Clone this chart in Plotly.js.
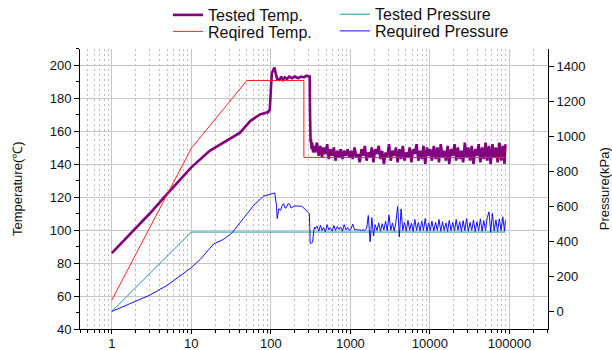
<!DOCTYPE html>
<html>
<head>
<meta charset="utf-8">
<script src="https://cdn.plot.ly/plotly-3.0.1.min.js"></script>
<style>html,body{margin:0;padding:0;background:#fff;}#chart{width:612px;height:350px;}</style>
</head>
<body>
<div id="chart"></div>
<script>
// ---- data ----
const rampTime = [1, 2, 3, 5, 7, 10, 17, 25, 41, 55, 73, 93, 97, 100, 103, 107, 111, 115, 120, 128, 135, 142, 150, 160, 170, 185, 200, 220, 240, 260, 280, 300, 308, 311, 313, 316, 320, 325, 330, 340, 350];
const testedTempRamp = [86, 101, 110, 122, 130, 138, 148, 153, 159, 166, 170, 171.5, 173, 185, 195, 197, 198.5, 195, 191.5, 191, 193, 191, 192.5, 191.5, 193, 192, 193, 192, 193, 192.5, 193.5, 193, 193, 170, 156, 153, 155, 149, 153, 147, 151];

const bandTime = [360, 380, 400, 420, 440, 460, 485, 510, 535, 560, 590, 620, 650, 685, 720, 755, 795, 835, 880, 925, 970,
  1020, 1070, 1130, 1190, 1250, 1310, 1380, 1450, 1520, 1600, 1680, 1770, 1860, 1950, 2050, 2160, 2270, 2390, 2510, 2640, 2770, 2910, 3060, 3220, 3380, 3560, 3740, 3930, 4130, 4340, 4560, 4800, 5040, 5300, 5570, 5860, 6160, 6470, 6800, 7150, 7520, 7900, 8300, 8730, 9180, 9650,
  10100, 10600, 11200, 11800, 12400, 13000, 13700, 14400, 15100, 15900, 16700, 17500, 18400, 19400, 20400, 21400, 22500, 23700, 24900, 26200, 27500, 28900, 30400, 32000, 33600, 35300, 37100, 39000, 41000, 43100, 45300, 47600, 50100, 52600, 55300, 58200, 61100, 64300, 67600, 71000, 74700, 78500, 82500, 86700, 89000];
const testedTempBand = [147, 153, 145, 151, 144, 150, 146, 152, 143, 149, 145, 150, 142, 148, 144, 149, 143, 148, 145, 149, 144,
  148, 143, 150, 144, 146, 141, 149, 145, 151, 142,
  147, 144, 150, 141, 149, 146, 151, 143, 148, 140,
  147, 144, 152, 142, 148, 145, 150, 141, 149, 143,
  151, 142, 147, 144, 150, 141, 149, 146, 152, 142,
  148, 143, 151, 140, 150, 145, 149, 142, 151, 143,
  150, 141, 152, 144, 148, 142, 151, 140, 149, 145,
  152, 142, 150, 143, 148, 141, 153, 144, 150, 142,
  151, 140, 149, 145, 152, 141, 150, 143, 153, 142,
  151, 140, 152, 144, 150, 141, 153, 142, 151, 140,
  152];

const reqTempTime = [1, 10, 50, 260, 260, 89000];
const reqTempValue = [57.5, 149.5, 190.6, 190.6, 144, 144];

const testedPresTime = [1, 10, 89000];
const testedPresValue = [0, 453, 453];

const reqPresRampTime = [1, 3, 5, 10, 13, 19, 25, 32, 45, 61, 81, 100, 108, 112, 118, 120, 126, 133, 140, 145, 150, 155, 165, 172, 180, 195, 213, 245, 286, 305, 309, 312, 321, 335, 347, 355];
const reqPresRampValue = [0, 93, 150, 250, 298, 385, 410, 445, 530, 606, 658, 672, 677, 676, 600, 530, 586, 577, 610, 615, 592, 590, 615, 612, 590, 600, 602, 600, 572, 557, 480, 389, 389, 395, 464, 480];
const reqPresBand = [470, 488, 458, 492, 462, 480, 455, 495, 465, 478, 458, 490, 462, 485, 468, 482, 458, 495, 465, 478, 462,
  472, 498, 466, 468, 463, 467, 461, 466, 463, 472, 548, 398, 535, 432,
  495, 462, 505, 458, 500, 465, 515, 460, 550, 462, 505, 458, 512, 600, 425, 585, 462, 508, 458, 520,
  463, 505, 457, 525, 462, 508, 460, 515, 463, 530, 458, 505, 461, 515, 459, 508, 463, 525, 458, 512,
  462, 505, 457, 520, 461, 508, 459, 525, 463, 512, 457, 518, 461, 530, 458, 508, 463, 522, 457, 512,
  461, 528, 458, 518, 462, 535, 568, 452, 560, 459, 522, 457, 528, 461, 540, 458, 520];

const xTickVals = [1, 10, 100, 1000, 10000, 100000];
const xTickText = ['1', '10', '100', '1000', '10000', '100000'];

// ---- chart ----
const FONT = 'Liberation Sans, Arial, sans-serif';
const LEGFONT = {family: FONT, size: 16, color: '#111'};
function leg(x, y) {
  return {xref: 'paper', yref: 'container', x: x, y: y, xanchor: 'left', yanchor: 'middle',
          orientation: 'v', bgcolor: 'rgba(0,0,0,0)', borderwidth: 0, font: LEGFONT, itemwidth: 30};
}
const traces = [
  {x: rampTime.concat(bandTime), y: testedTempRamp.concat(testedTempBand), name: 'Tested Temp.', mode: 'lines',
   line: {color: '#800080', width: 2.6}, legend: 'legend', yaxis: 'y'},
  {x: reqTempTime, y: reqTempValue, name: 'Reqired Temp.', mode: 'lines',
   line: {color: '#ff2020', width: 1}, legend: 'legend2', yaxis: 'y'},
  {x: testedPresTime, y: testedPresValue, name: 'Tested Pressure', mode: 'lines',
   line: {color: '#139a9a', width: 1}, legend: 'legend3', yaxis: 'y2'},
  {x: reqPresRampTime.concat(bandTime), y: reqPresRampValue.concat(reqPresBand), name: 'Required Pressure', mode: 'lines',
   line: {color: '#1010ff', width: 1}, legend: 'legend4', yaxis: 'y2'}
];

const layout = {
  width: 612, height: 350,
  margin: {l: 80, r: 64, t: 45, b: 21},
  paper_bgcolor: '#fff', plot_bgcolor: '#fff',
  font: {family: FONT, size: 13, color: '#111'},
  showlegend: true,
  legend: leg(88 / 468, 1 - 15 / 350),
  legend2: leg(88 / 468, 1 - 31.5 / 350),
  legend3: leg(255 / 468, 1 - 14.3 / 350),
  legend4: leg(255 / 468, 1 - 31 / 350),
  xaxis: {
    type: 'log', range: [-0.4, 5.485],
    tickvals: xTickVals, ticktext: xTickText,
    ticks: 'outside', ticklen: 4, tickcolor: '#000', ticklabelstandoff: -2,
    showline: true, linecolor: '#000', linewidth: 1, mirror: false,
    showgrid: true, gridcolor: '#c8c8c8', gridwidth: 1, zeroline: false,
    tickfont: {family: FONT, size: 13, color: '#111'},
    minor: {dtick: 'D1', ticks: 'outside', ticklen: 3, tickcolor: '#000', showgrid: true, gridcolor: '#bdbdbd', griddash: '2px,3px', gridwidth: 1}
  },
  yaxis: {
    range: [40, 210], dtick: 20, tick0: 40,
    ticks: 'outside', ticklen: 5, tickcolor: '#000',
    showline: true, linecolor: '#000', linewidth: 1,
    showgrid: true, gridcolor: '#c8c8c8', gridwidth: 1, zeroline: false,
    tickfont: {family: FONT, size: 13, color: '#111'},
    minor: {dtick: 10, ticks: 'outside', ticklen: 3, tickcolor: '#000', showgrid: false},
    title: {text: 'Temperature(℃)', font: {family: FONT, size: 13, color: '#111'}, standoff: 24}
  },
  yaxis2: {
    overlaying: 'y', side: 'right', range: [-100, 1500], dtick: 200, tick0: 0,
    ticks: 'outside', ticklen: 5, tickcolor: '#000',
    showline: true, linecolor: '#000', linewidth: 1,
    showgrid: false, zeroline: false,
    tickfont: {family: FONT, size: 13, color: '#111'},
    title: {text: 'Pressure(kPa)', font: {family: FONT, size: 13, color: '#111'}, standoff: 15}
  }
};

Plotly.newPlot('chart', traces, layout, {displayModeBar: false, staticPlot: true});
</script>
</body>
</html>
